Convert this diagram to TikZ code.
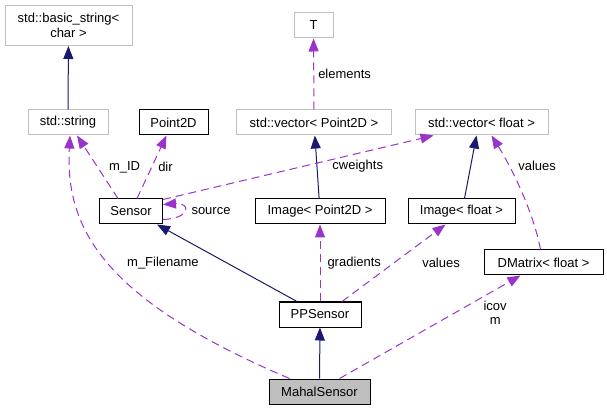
\documentclass[tikz,border=0pt]{standalone}
\usepackage{fontspec}
\setmainfont{Liberation Sans}
\usetikzlibrary{arrows.meta}
\definecolor{navyC}{HTML}{191970}
\definecolor{orchC}{HTML}{9A32CD}
\definecolor{greyLine}{HTML}{BFBFBF}
\definecolor{greyFill}{HTML}{BFBFBF}
\tikzset{>={Triangle[length=13pt,width=10pt]},
  box/.style={draw,line width=1pt,minimum height=25pt,inner sep=1pt,font=\fontsize{13}{15}\selectfont,align=center},
  ubox/.style={box,draw=greyLine},
  dbox/.style={box,draw=black},
  inh/.style={->,navyC,line width=1pt},
  use/.style={->,orchC,line width=1pt,dash pattern=on 8pt off 5pt},
  elab/.style={font=\fontsize{13}{14}\selectfont,text=black,inner sep=1pt,align=center}}

\begin{document}
\begin{tikzpicture}[x=1pt,y=-1pt]
\useasboundingbox (0,0) rectangle (607,411);
\node[ubox,minimum width=127pt,minimum height=40pt] (bstr) at (68.5,25.5) {std::basic\_string<\\char >};
\node[ubox,minimum width=80pt] (str) at (68,122.5) {std::string};
\node[dbox,minimum width=69pt] (ptd) at (173.5,122.5) {Point2D};
\node[ubox,minimum width=39pt] (tT) at (313.5,25.5) {T};
\node[ubox,minimum width=155pt] (vecP) at (314,122.5) {std::vector< Point2D >};
\node[ubox,minimum width=133pt] (vecF) at (481.5,122.5) {std::vector< float >};
\node[dbox,minimum width=63pt] (sens) at (131,211.5) {Sensor};
\node[dbox,minimum width=130pt] (imgP) at (320,211.5) {Image< Point2D >};
\node[dbox,minimum width=107pt] (imgF) at (461.5,211.5) {Image< float >};
\node[dbox,minimum width=119pt] (dmat) at (543.5,262.5) {DMatrix< float >};
\node[dbox,minimum width=82pt] (pps) at (320,314.5) {PPSensor};
\node[dbox,fill=greyFill,minimum width=101pt] (mahal) at (319.5,391.5) {MahalSensor};
\draw[inh] (str) -- (bstr);
\draw[inh] (imgP) -- (vecP);
\draw[inh] ([xshift=3pt]imgF.north) -- ([xshift=-5pt]vecF.south);
\draw[inh] ([xshift=-23pt]pps.north) -- ([xshift=26pt]sens.south);
\draw[inh] (mahal) -- (pps);
\draw[use] (vecP) -- node[elab,pos=0.5,right=3pt]{elements} (tT);
\draw[use] ([xshift=-13pt]sens.north) -- node[elab,pos=0.5,right=10pt]{m\_ID} ([xshift=9pt]str.south);
\draw[use] ([xshift=6pt]sens.north) -- node[elab,pos=0.5,right=5pt]{dir} ([xshift=-7pt]ptd.south);
\draw[use] ([yshift=-1pt]sens.north east) -- node[elab,pos=0.72,below=5pt]{cweights} ([xshift=-48pt]vecF.south);
\draw[use] ([yshift=-8pt]sens.east) .. controls +(28,-1) and +(28,-2) .. node[elab,pos=0.5,right=6pt]{source} ([yshift=7pt]sens.east);
\draw[use] ([xshift=-30pt]mahal.north) .. controls (105,300) and (65,230) .. node[elab,pos=0.5,right=17pt]{m\_Filename} ([xshift=2pt]str.south);
\draw[use] (pps) -- node[elab,pos=0.5,right=6pt]{gradients} (imgP);
\draw[use] ([xshift=22pt]pps.north) -- node[elab,pos=0.5,right=27pt]{values} ([xshift=-16pt]imgF.south);
\draw[use] ([xshift=-3pt]dmat.north) .. controls (533,210) and (510,165) .. node[elab,pos=0.7,right=8pt]{values} ([xshift=10pt]vecF.south);
\draw[use] ([xshift=20pt]mahal.north) -- node[elab,pos=0.86,below=10pt]{icov\\m} ([xshift=-23pt]dmat.south);
\end{tikzpicture}
\end{document}
